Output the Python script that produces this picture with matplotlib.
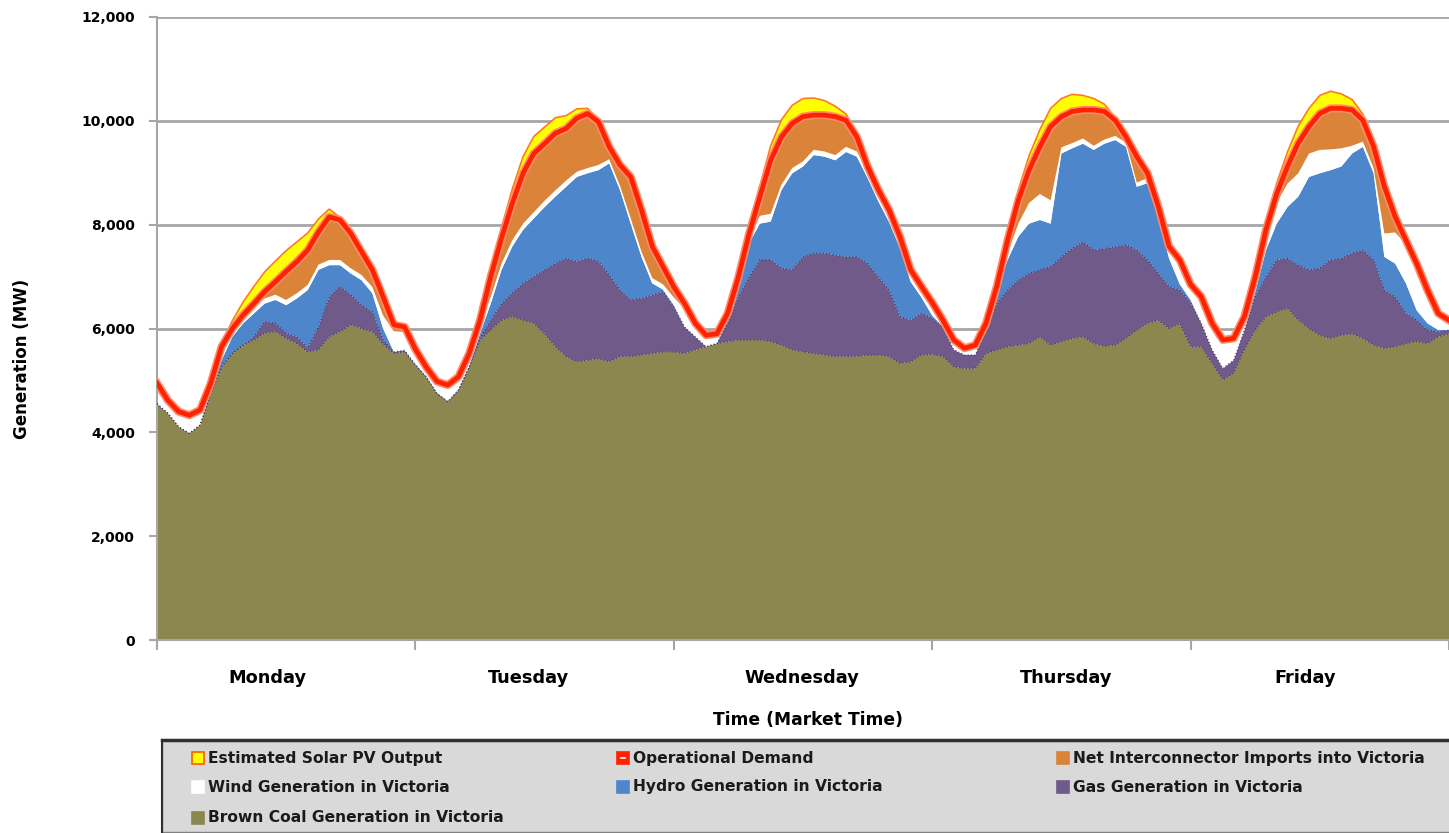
import numpy as np
import matplotlib.pyplot as plt
from matplotlib.patches import Rectangle
from matplotlib.lines import Line2D

# hourly values, Monday 00:00 to Saturday 00:00 (MW)
hours = np.arange(121)

brown_coal = [
    4550, 4370, 4110, 3980, 4140, 4750, 5260, 5520, 5680, 5780, 5910, 5940,
    5810, 5710, 5550, 5590, 5840, 5940, 6070, 6000, 5940, 5700, 5520, 5550,
    5300, 5070, 4750, 4590, 4810, 5260, 5780, 5970, 6160, 6230, 6160, 6100,
    5900, 5650, 5460, 5360, 5390, 5420, 5360, 5460, 5460, 5490, 5520, 5550,
    5550, 5520, 5590, 5650, 5710, 5750, 5780, 5780, 5780, 5750, 5680, 5590,
    5550, 5520, 5490, 5460, 5460, 5460, 5490, 5490, 5460, 5330, 5360, 5490,
    5500, 5460, 5260, 5230, 5230, 5520, 5590, 5650, 5680, 5710, 5840, 5680,
    5750, 5810, 5840, 5710, 5660, 5680, 5810, 5970, 6100, 6160, 6000, 6100,
    5650, 5650, 5330, 5010, 5140, 5590, 5970, 6230, 6320, 6390, 6160, 6000,
    5870, 5810, 5870, 5900, 5810, 5680, 5620, 5650, 5710, 5750, 5710, 5840,
    5900,
]
gas = [
    0, 0, 0, 0, 0, 0, 0, 0, 0, 60, 220, 160,
    100, 130, 70, 440, 770, 870, 580, 450, 380, 80, 30, 30,
    0, 0, 0, 0, 0, 0, 30, 190, 320, 450, 710, 900,
    1230, 1600, 1890, 1930, 1960, 1870, 1670, 1280, 1090, 1090, 1120, 1160,
    870, 510, 250, 0, 0, 350, 830, 1210, 1540, 1570, 1480, 1540,
    1830, 1930, 1960, 1950, 1920, 1920, 1760, 1500, 1280, 900, 800, 800,
    700, 570, 330, 260, 260, 450, 890, 1090, 1250, 1350, 1290, 1510,
    1630, 1730, 1830, 1800, 1880, 1890, 1800, 1540, 1220, 900, 810, 640,
    850, 450, 260, 220, 250, 380, 640, 760, 1000, 960, 1060, 1130,
    1290, 1510, 1480, 1550, 1700, 1640, 1120, 960, 580, 410, 260, 100,
    70,
]
hydro = [
    0, 0, 0, 0, 0, 50, 130, 320, 420, 450, 350, 450,
    540, 740, 1120, 1100, 610, 410, 410, 480, 360, 220, 0, 0,
    0, 0, 0, 0, 0, 0, 90, 320, 650, 900, 1030, 1120,
    1210, 1290, 1380, 1630, 1640, 1760, 2150, 1930, 1470, 800, 230, 40,
    30, 0, 0, 0, 0, 60, 190, 660, 700, 740, 1510, 1860,
    1740, 1890, 1860, 1830, 2020, 1930, 1650, 1460, 1310, 1320, 740, 310,
    50, 0, 0, 0, 0, 0, 260, 580, 840, 960, 960, 830,
    1990, 1930, 1890, 1930, 2020, 2060, 1890, 1220, 1480, 1090, 540, 110,
    50, 0, 0, 0, 0, 0, 90, 520, 700, 990, 1320, 1790,
    1830, 1730, 1770, 1920, 1990, 1670, 640, 640, 580, 190, 130, 30,
    0,
]
wind = [
    300, 220, 250, 300, 250, 150, 100, 80, 80, 100, 100, 100,
    100, 100, 100, 100, 100, 100, 100, 100, 120, 250, 400, 350,
    250, 190, 230, 320, 260, 260, 200, 130, 120, 120, 120, 120,
    120, 120, 120, 100, 100, 100, 80, 80, 100, 100, 100, 100,
    150, 350, 260, 220, 190, 130, 100, 100, 150, 150, 100, 100,
    100, 100, 100, 100, 100, 100, 120, 120, 130, 120, 130, 120,
    200, 130, 190, 130, 190, 130, 70, 130, 250, 400, 500, 450,
    120, 100, 100, 80, 80, 80, 80, 80, 100, 100, 130, 400,
    300, 510, 510, 550, 420, 260, 290, 390, 400, 450, 450, 450,
    450, 400, 350, 150, 100, 100, 450, 600, 750, 850, 600, 320,
    190,
]
imports = [
    100, 30, 40, 50, 40, 0, 160, 80, 80, 90, 130, 250,
    550, 610, 670, 630, 830, 770, 670, 450, 330, 360, 120, 100,
    50, 0, 0, 0, 0, 0, 60, 390, 490, 710, 970, 1130,
    1100, 1100, 1000, 1030, 1050, 830, 240, 400, 800, 800, 610, 340,
    200, 100, 0, 0, 0, 0, 90, 80, 370, 1030, 920, 860,
    860, 670, 700, 740, 510, 280, 100, 100, 100, 100, 100, 90,
    50, 0, 0, 0, 0, 0, 0, 250, 450, 630, 910, 1420,
    590, 610, 550, 690, 540, 300, 110, 500, 90, 100, 100, 70,
    0, 0, 0, 0, 0, 0, 0, 0, 180, 330, 580, 520,
    700, 790, 770, 690, 410, 410, 900, 300, 80, 50, 40, 0,
    0,
]
demand = [
    4950, 4620, 4400, 4330, 4430, 4950, 5650, 6000, 6260, 6480, 6710, 6900,
    7100, 7290, 7510, 7860, 8150, 8090, 7830, 7480, 7130, 6610, 6070, 6030,
    5600, 5260, 4980, 4910, 5070, 5520, 6160, 7000, 7740, 8410, 8990, 9370,
    9560, 9760, 9850, 10050, 10140, 9980, 9500, 9150, 8920, 8280, 7580, 7190,
    6800, 6480, 6100, 5870, 5900, 6290, 6990, 7830, 8540, 9240, 9690, 9950,
    10080, 10110, 10110, 10080, 10010, 9690, 9120, 8670, 8280, 7770, 7130, 6810,
    6500, 6160, 5780, 5620, 5680, 6100, 6810, 7700, 8470, 9050, 9500, 9890,
    10080, 10180, 10210, 10210, 10180, 10010, 9690, 9310, 8990, 8350, 7580, 7320,
    6850, 6610, 6100, 5780, 5810, 6230, 6990, 7900, 8600, 9120, 9570, 9890,
    10140, 10240, 10240, 10210, 10010, 9500, 8730, 8150, 7700, 7250, 6740, 6290,
    6160,
]
solar = [
    0, 0, 0, 0, 0, 0, 50, 150, 250, 330, 380, 400,
    400, 380, 330, 250, 150, 50, 0, 0, 0, 0, 0, 0,
    0, 0, 0, 0, 0, 0, 30, 100, 200, 280, 320, 330,
    320, 300, 250, 180, 100, 30, 0, 0, 0, 0, 0, 0,
    0, 0, 0, 0, 0, 0, 30, 100, 200, 280, 330, 350,
    350, 330, 280, 200, 120, 40, 0, 0, 0, 0, 0, 0,
    0, 0, 0, 0, 0, 0, 30, 100, 200, 280, 330, 350,
    350, 330, 280, 220, 140, 50, 0, 0, 0, 0, 0, 0,
    0, 0, 0, 0, 0, 0, 30, 100, 200, 280, 330, 350,
    350, 330, 280, 200, 120, 40, 0, 0, 0, 0, 0, 0,
    0,
]

days = ['Monday', 'Tuesday', 'Wednesday', 'Thursday', 'Friday']
day_label_pos = [10.3, 34.5, 59.9, 84.4, 106.6]

col_coal = '#8c874f'
col_gas = '#705a8a'
col_hydro = '#4e86cb'
col_wind = '#ffffff'
col_imports = '#db8439'
col_solar = '#ffff00'
col_demand = '#ff2200'

W, H = 1449, 833


def fx(px):
    return px / W


def fy(py):
    return 1 - py / H


fig = plt.figure(figsize=(W / 100, H / 100), dpi=100)
ax = fig.add_axes([fx(157), fy(640), fx(W - 157), (640 - 17) / H])

demand = np.array(demand)
solar = np.array(solar)

ax.stackplot(hours, brown_coal, gas, hydro, wind, imports,
             colors=[col_coal, col_gas, col_hydro, col_wind, col_imports],
             linewidth=0, zorder=2)
ax.fill_between(hours, demand, demand + solar, color=col_solar, lw=0, zorder=3)

coal_top = np.array(brown_coal)
gas_top = coal_top + np.array(gas)
ax.plot(hours, coal_top, color='#3c2f6e', lw=0.8, ls=(0, (1, 2)), zorder=3)
ax.plot(hours, gas_top, color='#3c2f6e', lw=0.8, ls=(0, (1, 2)), zorder=3)

ax.plot(hours, demand + solar, color='#ff7a1a', lw=1.2, zorder=4)
ax.plot(hours, demand, color='#ff8a6a', lw=5.8, zorder=5)
ax.plot(hours, demand, color=col_demand, lw=3.4, zorder=6)

ax.set_xlim(0, (W - 157) / 10.82)
ax.set_ylim(0, 12000)
ax.set_axisbelow(True)
ax.yaxis.grid(True, color='#a6a6a6', lw=2)

for s in ['top', 'right']:
    ax.spines[s].set_visible(False)
for s in ['left', 'bottom']:
    ax.spines[s].set_color('#a6a6a6')
    ax.spines[s].set_linewidth(1.5)

ax.set_yticks(np.arange(0, 12001, 2000))
ax.set_yticklabels([f'{v:,}' for v in range(0, 12001, 2000)],
                   fontsize=10, fontweight='bold')
ax.tick_params(axis='y', direction='out', length=6, width=1.5,
               color='#a6a6a6', pad=10)

ax.set_xticks(np.arange(0, 121, 24))
ax.set_xticklabels([])
ax.tick_params(axis='x', which='major', direction='out', length=7,
               width=1.5, color='#a6a6a6')
ax.set_xticks(day_label_pos, minor=True)
ax.set_xticklabels(days, minor=True, fontsize=12.8, fontweight='bold')
ax.tick_params(axis='x', which='minor', length=0, pad=21)

fig.text(fx(808), fy(720), 'Time (Market Time)', ha='center', va='center',
         fontsize=12.3, fontweight='bold')
fig.text(fx(22), fy(359), 'Generation (MW)', ha='center', va='center',
         rotation=90, fontsize=12, fontweight='bold')

# legend box
fig.add_artist(Rectangle((fx(162), fy(832)), fx(W - 162) + 0.01, (832 - 740) / H,
                         transform=fig.transFigure, facecolor='#d9d9d9',
                         edgecolor='#808080', lw=1.0))
fig.add_artist(Line2D([fx(162), 1.0], [fy(740), fy(740)],
                      transform=fig.transFigure, color='#303030', lw=2.5))
fig.add_artist(Line2D([fx(162), fx(162)], [fy(740), fy(832)],
                      transform=fig.transFigure, color='#303030', lw=1.5))

entries = [
    ('Estimated Solar PV Output', col_solar, '#ff5a00', 192, 758),
    ('Operational Demand', col_demand, col_demand, 617, 758),
    ('Net Interconnector Imports into Victoria', col_imports, col_imports, 1057, 758),
    ('Wind Generation in Victoria', col_wind, col_wind, 192, 787),
    ('Hydro Generation in Victoria', col_hydro, col_hydro, 617, 787),
    ('Gas Generation in Victoria', col_gas, col_gas, 1057, 787),
    ('Brown Coal Generation in Victoria', col_coal, col_coal, 192, 818),
]
for label, fc, ec, x0, yc in entries:
    fig.add_artist(Rectangle((fx(x0), fy(yc + 6)), fx(12), 12 / H,
                             transform=fig.transFigure, facecolor=fc,
                             edgecolor=ec, lw=1.2))
    if label == 'Operational Demand':
        fig.add_artist(Line2D([fx(x0 + 4), fx(x0 + 8)], [fy(yc), fy(yc)],
                              transform=fig.transFigure, color='white', lw=1.2))
    fig.text(fx(x0 + 16), fy(yc), label, ha='left', va='center',
             fontsize=11.2, fontweight='bold', color='#1a1a1a')

fig.savefig('out.png', dpi=100)
